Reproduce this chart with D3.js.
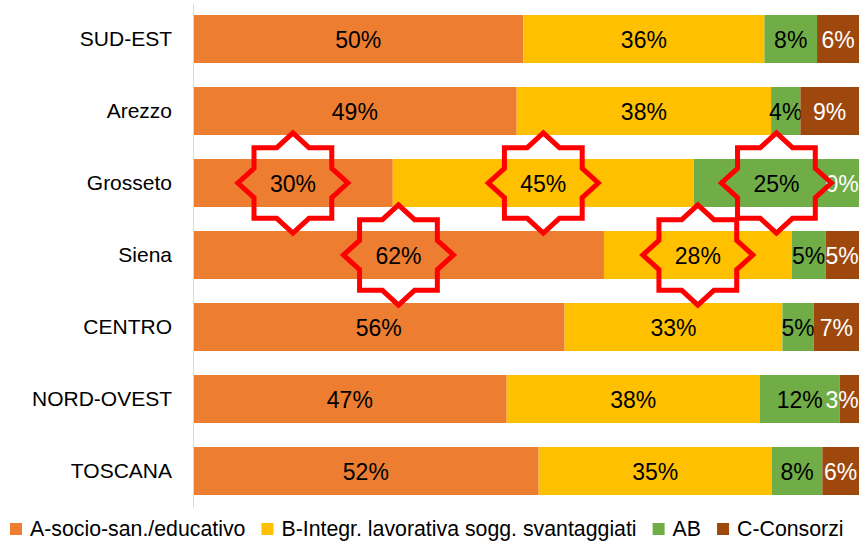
<!DOCTYPE html>
<html>
<head>
<meta charset="utf-8">
<script src="https://cdn.jsdelivr.net/npm/d3@7"></script>
<style>
  body { margin: 0; background: #fff; }
  svg { display: block; font-family: "Liberation Sans", Arial, sans-serif; }
</style>
</head>
<body>
<svg id="chart" width="859" height="548"></svg>
<script>
// data (percent of each area)
const regions = ["SUD-EST", "Arezzo", "Grosseto", "Siena", "CENTRO", "NORD-OVEST", "TOSCANA"];
const seriesKeys = ["A", "B", "AB", "C"];
const seriesNames = ["A-socio-san./educativo", "B-Integr. lavorativa sogg. svantaggiati", "AB", "C-Consorzi"];
const seriesColors = ["#ED7D31", "#FFC000", "#70AD47", "#9E480E"];
const labelColors = ["#000", "#000", "#000", "#fff"];
const valA = [49.6, 48.6, 30.0, 61.7, 55.8, 47.1, 51.9];
const valB = [36.2, 38.2, 45.2, 28.2, 32.7, 38.0, 35.0];
const valAB = [7.9, 4.4, 24.8, 5.1, 4.7, 12.0, 7.6];
const valC = [6.3, 8.8, 0.0, 5.0, 6.8, 2.9, 5.5];
// segments circled with a red star
const highlights = [["Grosseto", "A"], ["Grosseto", "B"], ["Grosseto", "AB"], ["Siena", "A"], ["Siena", "B"]];

const table = regions.map((r, i) => ({ region: r, A: valA[i], B: valB[i], AB: valAB[i], C: valC[i] }));

const W = 859, H = 548;
const svg = d3.select("#chart");

const x = d3.scaleLinear().domain([0, 100]).range([193, 859]);
const y = d3.scaleBand().domain(regions).range([3, 507]).paddingInner(1 / 3).paddingOuter(1 / 6);

const stacked = d3.stack().keys(seriesKeys)(table);

// bars
const layers = svg.append("g")
  .selectAll("g")
  .data(stacked)
  .join("g")
  .attr("fill", (d, i) => seriesColors[i]);

layers.selectAll("rect")
  .data(d => d)
  .join("rect")
  .attr("x", d => x(d[0]))
  .attr("y", d => y(d.data.region))
  .attr("width", d => x(d[1]) - x(d[0]))
  .attr("height", y.bandwidth());

// value labels (kept inside the right edge)
layers.each(function(layer, i) {
  d3.select(this).selectAll("text")
    .data(layer)
    .join("text")
    .attr("x", d => Math.min((x(d[0]) + x(d[1])) / 2, W - 17))
    .attr("y", d => y(d.data.region) + y.bandwidth() / 2)
    .attr("dy", "0.37em")
    .attr("text-anchor", "middle")
    .attr("font-size", 23)
    .attr("fill", labelColors[i])
    .text(d => Math.round(d[1] - d[0]) + "%");
});

// category axis
const axis = svg.append("g")
  .attr("transform", `translate(${x(0)},0)`)
  .call(d3.axisLeft(y).tickSize(0).tickSizeOuter(0).tickPadding(21));
axis.select(".domain").attr("stroke", "#d9d9d9").attr("stroke-width", 1);
axis.selectAll("text")
  .attr("font-size", 21)
  .attr("font-family", "Liberation Sans, Arial, sans-serif")
  .attr("fill", "#000");

// red stars around the highlighted labels
function starPoints(rx, ry) {
  const pts = [];
  for (let k = 0; k < 16; k++) {
    const a = k * Math.PI / 8;
    const r = k % 2 === 0 ? 1 : 0.765;
    pts.push([Math.cos(a) * r * rx, Math.sin(a) * r * ry]);
  }
  return pts;
}
const starLine = d3.line().curve(d3.curveLinearClosed);

svg.append("g")
  .selectAll("path")
  .data(highlights)
  .join("path")
  .attr("transform", d => {
    const row = table[regions.indexOf(d[0])];
    const layer = stacked[seriesKeys.indexOf(d[1])][regions.indexOf(d[0])];
    const cx = (x(layer[0]) + x(layer[1])) / 2;
    const cy = y(row.region) + y.bandwidth() / 2;
    return `translate(${cx},${cy})`;
  })
  .attr("d", starLine(starPoints(55, 50)))
  .attr("fill", "none")
  .attr("stroke", "#FF0000")
  .attr("stroke-width", 5)
  .attr("stroke-linejoin", "miter");

// legend
const legend = svg.append("g").attr("transform", "translate(0,529)");
let lx = 10;
seriesNames.forEach((name, i) => {
  legend.append("rect")
    .attr("x", lx).attr("y", -6)
    .attr("width", 12).attr("height", 12)
    .attr("fill", seriesColors[i]);
  const t = legend.append("text")
    .attr("x", lx + 20)
    .attr("y", 0)
    .attr("dy", "0.35em")
    .attr("font-size", 21.3)
    .attr("fill", "#000")
    .text(name);
  lx += 20 + t.node().getComputedTextLength() + 16;
});
</script>
</body>
</html>
